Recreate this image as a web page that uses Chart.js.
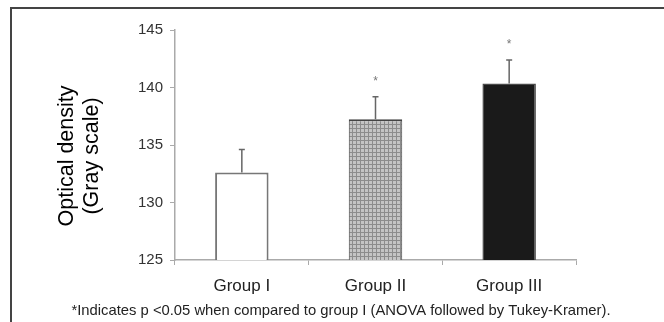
<!DOCTYPE html>
<html>
<head>
<meta charset="utf-8">
<script src="https://cdn.jsdelivr.net/npm/chart.js@4/dist/chart.umd.min.js"></script>
<style>
  body { margin: 0; background: #fff; overflow: hidden; }
  #frame { position: absolute; left: 10px; top: 7px; width: 700px; height: 400px;
           border-left: 2px solid #444; border-top: 2px solid #444; }
  #wrap { position: relative; width: 664px; height: 322px; }
  canvas { position: absolute; left: 0; top: 0; }
</style>
</head>
<body>
<div id="wrap">
  <div id="frame"></div>
  <canvas id="myChart" width="664" height="322"></canvas>
</div>
<script>
var groups = ['Group I', 'Group II', 'Group III']
var means = [132.6, 137.25, 140.35]
var errors = [2.0, 1.95, 2.05]
var marks = ['', '*', '*']
var yTicks = [125, 130, 135, 140, 145]
var yTitle = ['Optical density', '(Gray scale)']
var caption = '*Indicates p <0.05 when compared to group I (ANOVA followed by Tukey-Kramer).'

// crosshatch fill for group II
function hatch() {
  var c = document.createElement('canvas')
  c.width = 4
  c.height = 4
  var g = c.getContext('2d')
  g.fillStyle = '#c4c4c4'
  g.fillRect(0, 0, 4, 4)
  g.fillStyle = '#8c8c8c'
  g.fillRect(0, 0, 4, 1)
  g.fillRect(0, 0, 1, 4)
  return g.createPattern(c, 'repeat')
}

var ctx = document.getElementById('myChart').getContext('2d')

var errorBars = {
  id: 'errorBars',
  afterDatasetsDraw(chart) {
    var c = chart.ctx
    var meta = chart.getDatasetMeta(0)
    var y = chart.scales.y
    c.save()
    meta.data.forEach((bar, i) => {
      var top = y.getPixelForValue(means[i] + errors[i])
      c.strokeStyle = '#666'
      c.lineWidth = 1.5
      c.beginPath()
      c.moveTo(bar.x, bar.y)
      c.lineTo(bar.x, top)
      c.moveTo(bar.x - 3, top)
      c.lineTo(bar.x + 3, top)
      c.stroke()
      if (marks[i]) {
        c.fillStyle = '#777'
        c.font = '12px "Liberation Sans"'
        c.textAlign = 'center'
        c.textBaseline = 'middle'
        c.fillText(marks[i], bar.x, top - 15)
      }
    })
    c.restore()
  }
}

// axis title and footnote
var texts = {
  id: 'texts',
  afterDraw(chart) {
    var c = chart.ctx
    c.save()
    c.textAlign = 'center'
    c.textBaseline = 'middle'
    c.fillStyle = '#222'
    c.font = '14.8px "Liberation Sans"'
    c.fillText(caption, 341, 311)
    c.translate(67, 156)
    c.rotate(-Math.PI / 2)
    c.fillStyle = '#000'
    c.font = '21.5px "Liberation Sans"'
    yTitle.forEach((t, i) => c.fillText(t, 0, i * 25))
    c.restore()
  }
}

var chart = new Chart(ctx, {
  type: 'bar',
  data: {
    labels: groups,
    datasets: [{
      data: means,
      backgroundColor: ['#ffffff', hatch(), '#1a1a1a'],
      borderColor: ['#777777', '#444444', '#4a4a4a'],
      borderWidth: [2, {top: 2, left: 1, right: 1, bottom: 0}, 1.5],
      barPercentage: 0.4,
      categoryPercentage: 1.0
    }]
  },
  options: {
    responsive: false,
    animation: false,
    layout: { padding: { left: 20, right: 88, top: 30, bottom: 18 } },
    plugins: {
      legend: { display: false },
      tooltip: { enabled: false }
    },
    scales: {
      x: {
        afterFit: s => { s.height = 44 },
        border: { color: '#aaa', width: 1.5 },
        grid: { offset: true, drawOnChartArea: false, tickLength: 5, color: '#aaa' },
        ticks: { color: '#222', padding: 11, font: { family: 'Liberation Sans', size: 17 } }
      },
      y: {
        min: 125,
        max: 145,
        afterFit: s => { s.width = 155 },
        afterBuildTicks: s => { s.ticks = yTicks.map(v => ({ value: v })) },
        border: { color: '#aaa', width: 1.5 },
        grid: { drawOnChartArea: false, tickLength: 5, color: '#aaa' },
        ticks: { color: '#333', padding: 7, font: { family: 'Liberation Sans', size: 15 } }
      }
    }
  },
  plugins: [errorBars, texts]
})
</script>
</body>
</html>
